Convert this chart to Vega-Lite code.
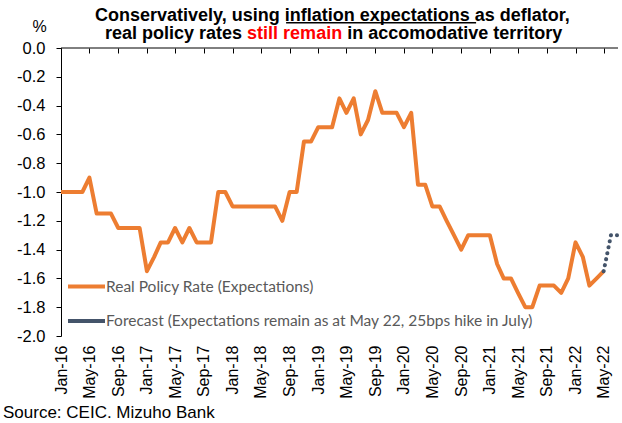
{
  "$schema": "https://vega.github.io/schema/vega-lite/v6.json",
  "width": 557,
  "height": 288,
  "autosize": {"type": "none"},
  "padding": {"left": 61, "top": 48, "right": 4, "bottom": 87},
  "background": "white",
  "config": {
    "view": {"stroke": null},
    "font": "Liberation Sans",
    "axisY": {
      "title": null, "grid": false, "domainColor": "black", "tickColor": "black", "tickSize": 5,
      "labelFont": "Liberation Sans", "labelFontSize": 16.5, "labelColor": "black", "labelPadding": 11, "labelOverlap": false
    }
  },
  "datasets": {
    "real": [
      {"d": "2016-01-01", "v": -1.0}, {"d": "2016-02-01", "v": -1.0}, {"d": "2016-03-01", "v": -1.0}, {"d": "2016-04-01", "v": -1.0},
      {"d": "2016-05-01", "v": -0.9}, {"d": "2016-06-01", "v": -1.15}, {"d": "2016-07-01", "v": -1.15}, {"d": "2016-08-01", "v": -1.15},
      {"d": "2016-09-01", "v": -1.25}, {"d": "2016-10-01", "v": -1.25}, {"d": "2016-11-01", "v": -1.25}, {"d": "2016-12-01", "v": -1.25},
      {"d": "2017-01-01", "v": -1.55}, {"d": "2017-02-01", "v": -1.45}, {"d": "2017-03-01", "v": -1.35}, {"d": "2017-04-01", "v": -1.35},
      {"d": "2017-05-01", "v": -1.25}, {"d": "2017-06-01", "v": -1.35}, {"d": "2017-07-01", "v": -1.25}, {"d": "2017-08-01", "v": -1.35},
      {"d": "2017-09-01", "v": -1.35}, {"d": "2017-10-01", "v": -1.35}, {"d": "2017-11-01", "v": -1.0}, {"d": "2017-12-01", "v": -1.0},
      {"d": "2018-01-01", "v": -1.1}, {"d": "2018-02-01", "v": -1.1}, {"d": "2018-03-01", "v": -1.1}, {"d": "2018-04-01", "v": -1.1},
      {"d": "2018-05-01", "v": -1.1}, {"d": "2018-06-01", "v": -1.1}, {"d": "2018-07-01", "v": -1.1}, {"d": "2018-08-01", "v": -1.2},
      {"d": "2018-09-01", "v": -1.0}, {"d": "2018-10-01", "v": -1.0}, {"d": "2018-11-01", "v": -0.65}, {"d": "2018-12-01", "v": -0.65},
      {"d": "2019-01-01", "v": -0.55}, {"d": "2019-02-01", "v": -0.55}, {"d": "2019-03-01", "v": -0.55}, {"d": "2019-04-01", "v": -0.35},
      {"d": "2019-05-01", "v": -0.45}, {"d": "2019-06-01", "v": -0.35}, {"d": "2019-07-01", "v": -0.6}, {"d": "2019-08-01", "v": -0.5},
      {"d": "2019-09-01", "v": -0.3}, {"d": "2019-10-01", "v": -0.45}, {"d": "2019-11-01", "v": -0.45}, {"d": "2019-12-01", "v": -0.45},
      {"d": "2020-01-01", "v": -0.55}, {"d": "2020-02-01", "v": -0.45}, {"d": "2020-03-01", "v": -0.95}, {"d": "2020-04-01", "v": -0.95},
      {"d": "2020-05-01", "v": -1.1}, {"d": "2020-06-01", "v": -1.1}, {"d": "2020-07-01", "v": -1.2}, {"d": "2020-08-01", "v": -1.3},
      {"d": "2020-09-01", "v": -1.4}, {"d": "2020-10-01", "v": -1.3}, {"d": "2020-11-01", "v": -1.3}, {"d": "2020-12-01", "v": -1.3},
      {"d": "2021-01-01", "v": -1.3}, {"d": "2021-02-01", "v": -1.5}, {"d": "2021-03-01", "v": -1.6}, {"d": "2021-04-01", "v": -1.6},
      {"d": "2021-05-01", "v": -1.7}, {"d": "2021-06-01", "v": -1.8}, {"d": "2021-07-01", "v": -1.8}, {"d": "2021-08-01", "v": -1.65},
      {"d": "2021-09-01", "v": -1.65}, {"d": "2021-10-01", "v": -1.65}, {"d": "2021-11-01", "v": -1.7}, {"d": "2021-12-01", "v": -1.6},
      {"d": "2022-01-01", "v": -1.35}, {"d": "2022-02-01", "v": -1.45}, {"d": "2022-03-01", "v": -1.65}, {"d": "2022-04-01", "v": -1.6},
      {"d": "2022-05-01", "v": -1.55}
    ],
    "forecast": [
      {"d": "2022-05-01", "v": -1.55}, {"d": "2022-06-01", "v": -1.3}, {"d": "2022-07-01", "v": -1.3}
    ]
  },
  "layer": [
    {
      "data": {"values": [{}]},
      "mark": {"type": "rule", "color": "black", "strokeWidth": 1},
      "encoding": {
        "y": {
          "datum": 0, "type": "quantitative",
          "axis": {
            "values": [-2, -1.8, -1.6, -1.4, -1.2, -1, -0.8, -0.6, -0.4, -0.2, 0],
            "labelExpr": "replace(format(datum.value, '.1f'), '\u2212', '-')"
          }
        }
      }
    },
    {
      "data": {"name": "real"},
      "mark": {"type": "line", "strokeWidth": 4, "strokeJoin": "round", "strokeCap": "butt"},
      "encoding": {
        "x": {
          "field": "d", "type": "temporal",
          "scale": {"type": "utc", "domain": [{"year": 2016, "month": 1, "date": 1, "utc": true}, {"year": 2022, "month": 7, "date": 1, "utc": true}]},
          "axis": {
            "orient": "top", "title": null, "grid": false, "labels": false, "ticks": true, "tickSize": 5, "offset": -5,
            "tickColor": "black", "tickWidth": 1, "domain": false,
            "values": [
              {"year": 2016, "month": 1, "date": 1, "utc": true}, {"year": 2016, "month": 5, "date": 1, "utc": true}, {"year": 2016, "month": 9, "date": 1, "utc": true},
              {"year": 2017, "month": 1, "date": 1, "utc": true}, {"year": 2017, "month": 5, "date": 1, "utc": true}, {"year": 2017, "month": 9, "date": 1, "utc": true},
              {"year": 2018, "month": 1, "date": 1, "utc": true}, {"year": 2018, "month": 5, "date": 1, "utc": true}, {"year": 2018, "month": 9, "date": 1, "utc": true},
              {"year": 2019, "month": 1, "date": 1, "utc": true}, {"year": 2019, "month": 5, "date": 1, "utc": true}, {"year": 2019, "month": 9, "date": 1, "utc": true},
              {"year": 2020, "month": 1, "date": 1, "utc": true}, {"year": 2020, "month": 5, "date": 1, "utc": true}, {"year": 2020, "month": 9, "date": 1, "utc": true},
              {"year": 2021, "month": 1, "date": 1, "utc": true}, {"year": 2021, "month": 5, "date": 1, "utc": true}, {"year": 2021, "month": 9, "date": 1, "utc": true},
              {"year": 2022, "month": 1, "date": 1, "utc": true}, {"year": 2022, "month": 5, "date": 1, "utc": true}
            ]
          }
        },
        "y": {
          "field": "v", "type": "quantitative",
          "scale": {"domain": [-2, 0], "nice": false, "zero": false},
          "axis": {
            "values": [-2, -1.8, -1.6, -1.4, -1.2, -1, -0.8, -0.6, -0.4, -0.2, 0],
            "labelExpr": "replace(format(datum.value, '.1f'), '\u2212', '-')"
          }
        },
        "color": {
          "datum": "Real Policy Rate (Expectations)",
          "scale": {"domain": ["Real Policy Rate (Expectations)", "Forecast (Expectations remain as at May 22, 25bps hike in July)"], "range": ["#ED7D31", "#44546A"]},
          "legend": {
            "title": null, "orient": "none", "legendX": 5, "legendY": 218, "padding": 0,
            "symbolType": "stroke", "symbolSize": 1369, "symbolStrokeWidth": 4,
            "labelFont": "Lato", "labelFontSize": 15.5, "labelColor": "#595959", "labelOffset": -1, "labelLimit": 0,
            "rowPadding": 5.5
          }
        }
      }
    },
    {
      "data": {"name": "forecast"},
      "mark": {"type": "line", "strokeWidth": 4, "strokeDash": [0.1, 6], "strokeCap": "round"},
      "encoding": {
        "x": {
          "field": "d", "type": "temporal",
          "axis": {
            "orient": "bottom", "title": null, "grid": false, "domain": false, "ticks": false, "tickSize": 0,
            "labelAngle": -90, "labelAlign": "right", "labelBaseline": "middle", "labelPadding": 9,
            "labelFont": "Liberation Sans", "labelFontSize": 16, "labelColor": "black", "format": "%b-%y", "labelOverlap": false,
            "values": [
              {"year": 2016, "month": 1, "date": 1, "utc": true}, {"year": 2016, "month": 5, "date": 1, "utc": true}, {"year": 2016, "month": 9, "date": 1, "utc": true},
              {"year": 2017, "month": 1, "date": 1, "utc": true}, {"year": 2017, "month": 5, "date": 1, "utc": true}, {"year": 2017, "month": 9, "date": 1, "utc": true},
              {"year": 2018, "month": 1, "date": 1, "utc": true}, {"year": 2018, "month": 5, "date": 1, "utc": true}, {"year": 2018, "month": 9, "date": 1, "utc": true},
              {"year": 2019, "month": 1, "date": 1, "utc": true}, {"year": 2019, "month": 5, "date": 1, "utc": true}, {"year": 2019, "month": 9, "date": 1, "utc": true},
              {"year": 2020, "month": 1, "date": 1, "utc": true}, {"year": 2020, "month": 5, "date": 1, "utc": true}, {"year": 2020, "month": 9, "date": 1, "utc": true},
              {"year": 2021, "month": 1, "date": 1, "utc": true}, {"year": 2021, "month": 5, "date": 1, "utc": true}, {"year": 2021, "month": 9, "date": 1, "utc": true},
              {"year": 2022, "month": 1, "date": 1, "utc": true}, {"year": 2022, "month": 5, "date": 1, "utc": true}
            ]
          }
        },
        "y": {
          "field": "v", "type": "quantitative",
          "axis": {
            "values": [-2, -1.8, -1.6, -1.4, -1.2, -1, -0.8, -0.6, -0.4, -0.2, 0],
            "labelExpr": "replace(format(datum.value, '.1f'), '\u2212', '-')"
          }
        },
        "color": {"datum": "Forecast (Expectations remain as at May 22, 25bps hike in July)"}
      }
    },
    {
      "data": {"values": [{}]},
      "mark": {"type": "text", "text": "Conservatively, using inflation expectations as deflator,", "align": "left", "baseline": "alphabetic", "font": "Liberation Sans", "fontWeight": "bold", "fontSize": 18, "color": "black"},
      "encoding": {"x": {"value": 34}, "y": {"value": -27.5}}
    },
    {
      "data": {"values": [{}]},
      "mark": {"type": "rule", "color": "black", "strokeWidth": 1.5},
      "encoding": {"x": {"value": 225.1}, "x2": {"value": 415.1}, "y": {"value": -25.3}}
    },
    {
      "data": {"values": [{}]},
      "mark": {"type": "text", "text": "real policy rates", "align": "left", "baseline": "alphabetic", "font": "Liberation Sans", "fontWeight": "bold", "fontSize": 18, "color": "black"},
      "encoding": {"x": {"value": 44}, "y": {"value": -9.5}}
    },
    {
      "data": {"values": [{}]},
      "mark": {"type": "text", "text": "still remain", "align": "left", "baseline": "alphabetic", "font": "Liberation Sans", "fontWeight": "bold", "fontSize": 18, "color": "#FF0000"},
      "encoding": {"x": {"value": 186.1}, "y": {"value": -9.5}}
    },
    {
      "data": {"values": [{}]},
      "mark": {"type": "text", "text": "in accomodative territory", "align": "left", "baseline": "alphabetic", "font": "Liberation Sans", "fontWeight": "bold", "fontSize": 18, "color": "black"},
      "encoding": {"x": {"value": 286.2}, "y": {"value": -9.5}}
    },
    {
      "data": {"values": [{}]},
      "mark": {"type": "text", "text": "%", "align": "center", "baseline": "alphabetic", "font": "Liberation Sans", "fontSize": 16, "color": "black"},
      "encoding": {"x": {"value": -21.5}, "y": {"value": -16.5}}
    },
    {
      "data": {"values": [{}]},
      "mark": {"type": "text", "text": "Source: CEIC. Mizuho Bank", "align": "left", "baseline": "alphabetic", "font": "Liberation Sans", "fontSize": 17, "color": "black"},
      "encoding": {"x": {"value": -58}, "y": {"value": 370}}
    }
  ],
  "resolve": {"axis": {"x": "independent"}}
}
